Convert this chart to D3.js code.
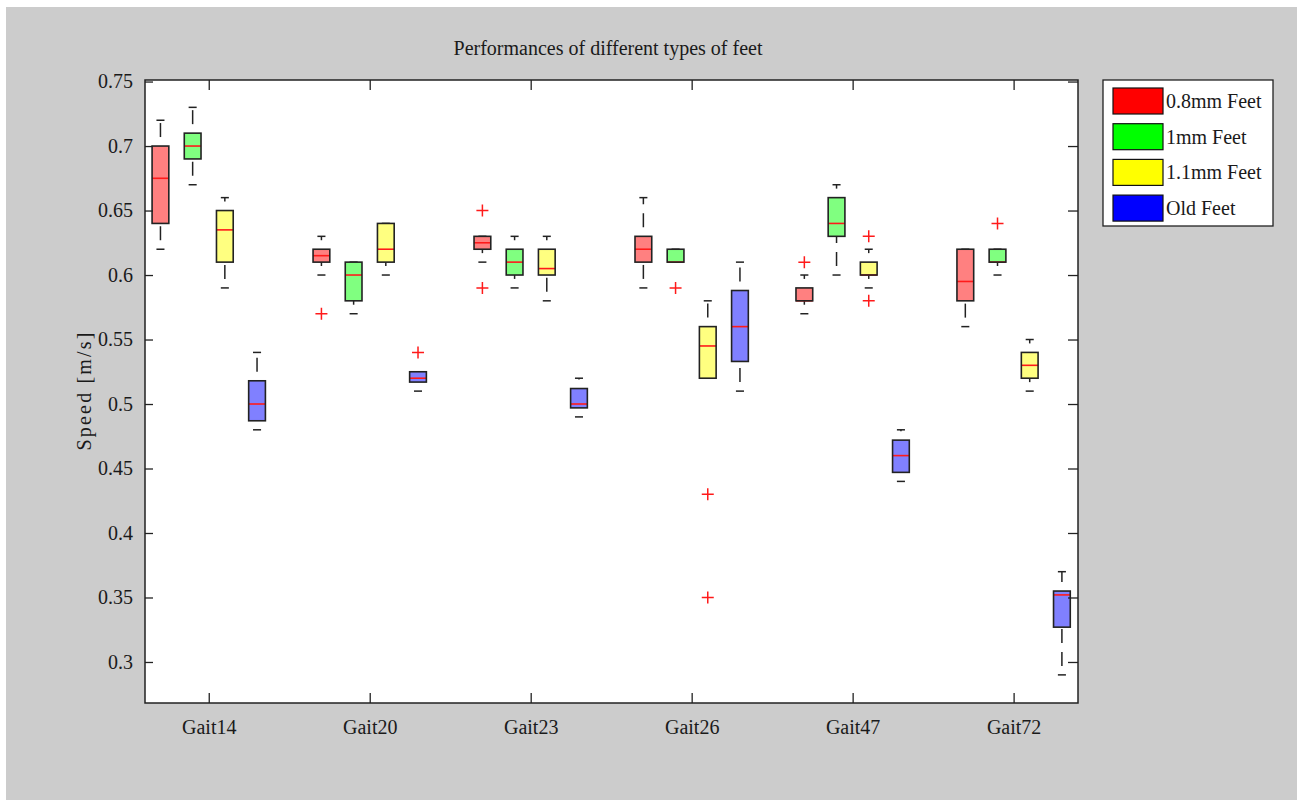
<!DOCTYPE html>
<html>
<head>
<meta charset="utf-8">
<script src="https://cdn.jsdelivr.net/npm/d3@7"></script>
<style>
  html, body { margin: 0; padding: 0; background: #ffffff; }
  svg { display: block; }
  text { font-family: "Liberation Serif", "Times New Roman", serif; fill: #1a1a1a; }
</style>
</head>
<body>
<svg id="chart" width="1297" height="800"></svg>
<script>
// Gait types on the x axis and foot types drawn side by side in each group
const gaits = ["Gait14", "Gait20", "Gait23", "Gait26", "Gait47", "Gait72"];
const feet = ["0.8mm Feet", "1mm Feet", "1.1mm Feet", "Old Feet"];
const boxFill = ["#ff8080", "#80ff80", "#ffff80", "#8080ff"];
const legendFill = ["#ff0000", "#00ff00", "#ffff00", "#0000ff"];
const yTicks = [0.3, 0.35, 0.4, 0.45, 0.5, 0.55, 0.6, 0.65, 0.7, 0.75];

// Box statistics, one row per gait, one column per foot type (speed in m/s)
const whiskerLow = [
  [0.62, 0.67, 0.59, 0.48],
  [0.60, 0.57, 0.60, 0.51],
  [0.61, 0.59, 0.58, 0.49],
  [0.59, 0.61, 0.52, 0.51],
  [0.57, 0.60, 0.59, 0.44],
  [0.56, 0.60, 0.51, 0.29]
];
const q1 = [
  [0.64, 0.69, 0.61, 0.487],
  [0.61, 0.58, 0.61, 0.517],
  [0.62, 0.60, 0.60, 0.497],
  [0.61, 0.61, 0.52, 0.533],
  [0.58, 0.63, 0.60, 0.447],
  [0.58, 0.61, 0.52, 0.327]
];
const median = [
  [0.675, 0.70, 0.635, 0.50],
  [0.615, 0.60, 0.62, 0.52],
  [0.625, 0.61, 0.605, 0.50],
  [0.62, 0.61, 0.545, 0.56],
  [0.58, 0.64, 0.60, 0.46],
  [0.595, 0.61, 0.53, 0.352]
];
const q3 = [
  [0.70, 0.71, 0.65, 0.518],
  [0.62, 0.61, 0.64, 0.525],
  [0.63, 0.62, 0.62, 0.512],
  [0.63, 0.62, 0.56, 0.588],
  [0.59, 0.66, 0.61, 0.472],
  [0.62, 0.62, 0.54, 0.355]
];
const whiskerHigh = [
  [0.72, 0.73, 0.66, 0.54],
  [0.63, 0.61, 0.64, 0.525],
  [0.63, 0.63, 0.63, 0.52],
  [0.66, 0.62, 0.58, 0.61],
  [0.60, 0.67, 0.62, 0.48],
  [0.62, 0.62, 0.55, 0.37]
];
const outliers = [
  [[], [], [], []],
  [[0.57], [], [], [0.54]],
  [[0.65, 0.59], [], [], []],
  [[], [0.59], [0.43, 0.35], []],
  [[0.61], [], [0.63, 0.58], []],
  [[], [0.64], [], []]
];

const svg = d3.select("#chart");
const plot = { left: 145, right: 1078, top: 80, bottom: 703 };
const slotsPerGroup = feet.length + 1;

// Each box sits in its own slot; one empty slot separates the gait groups
const x = d3.scaleLinear()
  .domain([-0.48, gaits.length * slotsPerGroup - 1.5])
  .range([plot.left, plot.right]);
const y = d3.scaleLinear()
  .domain([0.2682, 0.7512])
  .range([plot.bottom, plot.top]);

const slot = (g, f) => g * slotsPerGroup + f;
const groupCenter = g => g * slotsPerGroup + (feet.length - 1) / 2;
const boxW = x(0.52) - x(0);
const capW = x(0.25) - x(0);

// Figure background
svg.append("rect").attr("x", 6).attr("y", 7).attr("width", 1291).attr("height", 793)
  .attr("fill", "#cccccc");
svg.append("rect")
  .attr("x", plot.left).attr("y", plot.top)
  .attr("width", plot.right - plot.left).attr("height", plot.bottom - plot.top)
  .attr("fill", "#ffffff");

// Flatten the statistics into one record per box
const boxes = [];
gaits.forEach((gait, g) => {
  feet.forEach((foot, f) => {
    boxes.push({
      g, f,
      lo: whiskerLow[g][f], q1: q1[g][f], med: median[g][f],
      q3: q3[g][f], hi: whiskerHigh[g][f], out: outliers[g][f]
    });
  });
});

const data = svg.append("g");

// Dashed whiskers, each drawn from its lower end upward
const whiskerSegs = [];
boxes.forEach(b => {
  if (b.hi > b.q3) whiskerSegs.push({ b, from: b.q3, to: b.hi });
  if (b.lo < b.q1) whiskerSegs.push({ b, from: b.lo, to: b.q1 });
});
data.selectAll("path.whisker").data(whiskerSegs).join("path")
  .attr("class", "whisker")
  .attr("d", d => `M${x(slot(d.b.g, d.b.f))},${y(d.from)}V${y(d.to)}`)
  .attr("stroke", "#222")
  .attr("stroke-width", 1.5)
  .attr("stroke-dasharray", "14,9")
  .attr("stroke-dashoffset", 14)
  .attr("fill", "none");

// Whisker caps
const caps = [];
boxes.forEach(b => { caps.push({ b, v: b.hi }); caps.push({ b, v: b.lo }); });
data.selectAll("line.cap").data(caps).join("line")
  .attr("class", "cap")
  .attr("x1", d => x(slot(d.b.g, d.b.f)) - capW / 2)
  .attr("x2", d => x(slot(d.b.g, d.b.f)) + capW / 2)
  .attr("y1", d => y(d.v)).attr("y2", d => y(d.v))
  .attr("stroke", "#222").attr("stroke-width", 1.5);

// Box fills
data.selectAll("rect.box").data(boxes).join("rect")
  .attr("class", "box")
  .attr("x", d => x(slot(d.g, d.f)) - boxW / 2)
  .attr("y", d => y(d.q3))
  .attr("width", boxW)
  .attr("height", d => y(d.q1) - y(d.q3))
  .attr("fill", d => boxFill[d.f]);

// Medians
data.selectAll("line.median").data(boxes).join("line")
  .attr("class", "median")
  .attr("x1", d => x(slot(d.g, d.f)) - boxW / 2)
  .attr("x2", d => x(slot(d.g, d.f)) + boxW / 2)
  .attr("y1", d => y(d.med)).attr("y2", d => y(d.med))
  .attr("stroke", "#ff1a1a").attr("stroke-width", 1.6);

// Box outlines on top of the medians
data.selectAll("rect.outline").data(boxes).join("rect")
  .attr("class", "outline")
  .attr("x", d => x(slot(d.g, d.f)) - boxW / 2)
  .attr("y", d => y(d.q3))
  .attr("width", boxW)
  .attr("height", d => y(d.q1) - y(d.q3))
  .attr("fill", "none")
  .attr("stroke", "#222").attr("stroke-width", 1.6);

// Outliers as red plus markers
const outPts = [];
boxes.forEach(b => b.out.forEach(v => outPts.push({ b, v })));
const plus = 6;
data.selectAll("path.outlier").data(outPts).join("path")
  .attr("class", "outlier")
  .attr("d", d => {
    const cx = x(slot(d.b.g, d.b.f)), cy = y(d.v);
    return `M${cx - plus},${cy}H${cx + plus}M${cx},${cy - plus}V${cy + plus}`;
  })
  .attr("stroke", "#ff1a1a").attr("stroke-width", 1.5).attr("fill", "none");

// Axes: boxed frame with inward ticks on all sides
const axisColor = "#222";
const gx = svg.append("g").attr("transform", `translate(0,${plot.bottom})`)
  .call(d3.axisBottom(x).tickValues(gaits.map((_, g) => groupCenter(g)))
    .tickFormat((_, i) => gaits[i]).tickSizeInner(-10).tickSizeOuter(0).tickPadding(17));
const gxTop = svg.append("g").attr("transform", `translate(0,${plot.top})`)
  .call(d3.axisTop(x).tickValues(gaits.map((_, g) => groupCenter(g)))
    .tickFormat("").tickSizeInner(-10).tickSizeOuter(0));
const gy = svg.append("g").attr("transform", `translate(${plot.left},0)`)
  .call(d3.axisLeft(y).tickValues(yTicks).tickFormat(d3.format("~g"))
    .tickSizeInner(-8).tickSizeOuter(0).tickPadding(12));
const gyRight = svg.append("g").attr("transform", `translate(${plot.right},0)`)
  .call(d3.axisRight(y).tickValues(yTicks).tickFormat("")
    .tickSizeInner(-10).tickSizeOuter(0));

[gx, gxTop, gy, gyRight].forEach(a => {
  a.select(".domain").remove();
  a.selectAll(".tick line").attr("stroke", axisColor).attr("stroke-width", 1.3);
  a.selectAll("text").attr("font-size", 20).attr("fill", "#1a1a1a")
    .attr("font-family", "\"Liberation Serif\", serif");
});

svg.append("rect")
  .attr("x", plot.left).attr("y", plot.top)
  .attr("width", plot.right - plot.left).attr("height", plot.bottom - plot.top)
  .attr("fill", "none").attr("stroke", axisColor).attr("stroke-width", 1.5);

// Title and axis label
svg.append("text")
  .attr("x", 608).attr("y", 55)
  .attr("text-anchor", "middle").attr("font-size", 20)
  .text("Performances of different types of feet");

svg.append("text")
  .attr("transform", `translate(91,${(plot.top + plot.bottom) / 2}) rotate(-90)`)
  .attr("text-anchor", "middle").attr("font-size", 20)
  .attr("textLength", 118).attr("lengthAdjust", "spacing")
  .text("Speed [m/s]");

// Legend
const legend = svg.append("g");
legend.append("rect")
  .attr("x", 1103).attr("y", 80).attr("width", 170).attr("height", 146)
  .attr("fill", "#ffffff").attr("stroke", "#222").attr("stroke-width", 1.3);
const rows = legend.selectAll("g.row").data(feet).join("g")
  .attr("class", "row")
  .attr("transform", (d, i) => `translate(0,${101 + i * 35.7})`);
rows.append("rect")
  .attr("x", 1113).attr("y", -13).attr("width", 50).attr("height", 26)
  .attr("fill", (d, i) => legendFill[i]).attr("stroke", "#111").attr("stroke-width", 1.2);
rows.append("text")
  .attr("x", 1166).attr("y", 7).attr("font-size", 20)
  .text(d => d);
</script>
</body>
</html>
